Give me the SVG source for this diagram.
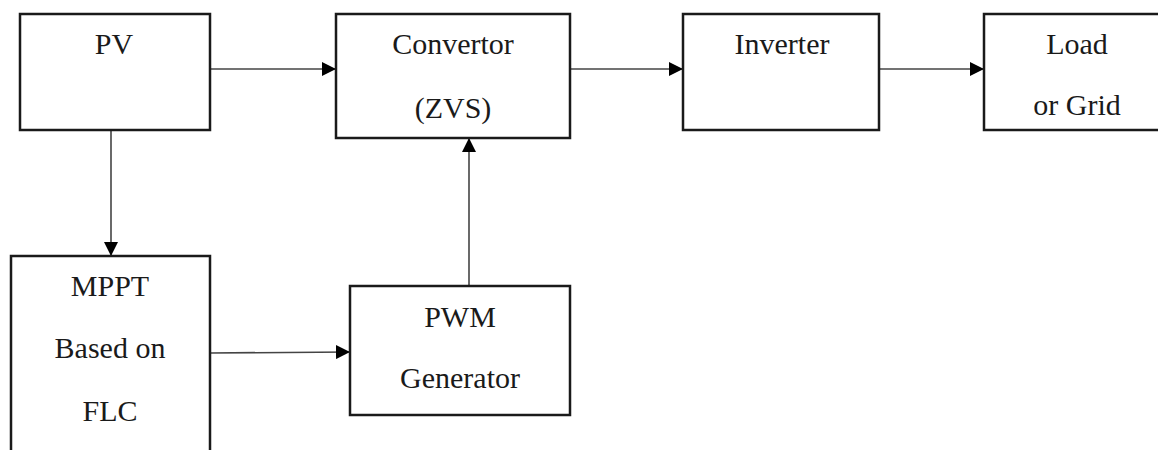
<svg xmlns="http://www.w3.org/2000/svg" width="1158" height="450" viewBox="0 0 1158 450">
<style>
.box{fill:#fff;stroke:#1a1a1a;stroke-width:2.5}
.lbl{font-family:"Liberation Serif","Times New Roman",serif;font-size:30px;fill:#1a1a1a;text-anchor:middle}
.con{stroke:#444;stroke-width:1.6;fill:none;marker-end:url(#ah)}
</style>
<defs>
<marker id="ah" markerUnits="userSpaceOnUse" markerWidth="15" markerHeight="14" refX="14" refY="7" orient="auto">
<path d="M0,0 L14,7 L0,14 Z" fill="#000"/>
</marker>
</defs>
<rect width="1158" height="450" fill="#fff"/>
<g id="connectors">
<line class="con" x1="210" y1="69" x2="336" y2="69"/>
<line class="con" x1="570" y1="69" x2="683" y2="69"/>
<line class="con" x1="879" y1="69" x2="984" y2="69"/>
<line class="con" x1="111" y1="130" x2="111" y2="256"/>
<line class="con" x1="210" y1="353" x2="350" y2="352"/>
<line class="con" x1="469" y1="286" x2="469" y2="138"/>
</g>
<g id="pv">
<rect class="box" x="20" y="14" width="190" height="116"/>
<text class="lbl" x="114" y="54">PV</text>
</g>
<g id="convertor">
<rect class="box" x="336" y="14" width="234" height="124"/>
<text class="lbl" x="453" y="54">Convertor</text>
<text class="lbl" x="453" y="118">(ZVS)</text>
</g>
<g id="inverter">
<rect class="box" x="683" y="14" width="196" height="116"/>
<text class="lbl" x="782" y="54">Inverter</text>
</g>
<g id="load">
<rect class="box" x="984" y="14" width="180" height="116"/>
<text class="lbl" x="1077" y="54">Load</text>
<text class="lbl" x="1077" y="115">or Grid</text>
</g>
<g id="mppt">
<rect class="box" x="11" y="256" width="199" height="200"/>
<text class="lbl" x="110" y="296">MPPT</text>
<text class="lbl" x="110" y="358">Based on</text>
<text class="lbl" x="110" y="421">FLC</text>
</g>
<g id="pwm">
<rect class="box" x="350" y="286" width="220" height="129"/>
<text class="lbl" x="460" y="327">PWM</text>
<text class="lbl" x="460" y="388">Generator</text>
</g>
</svg>
